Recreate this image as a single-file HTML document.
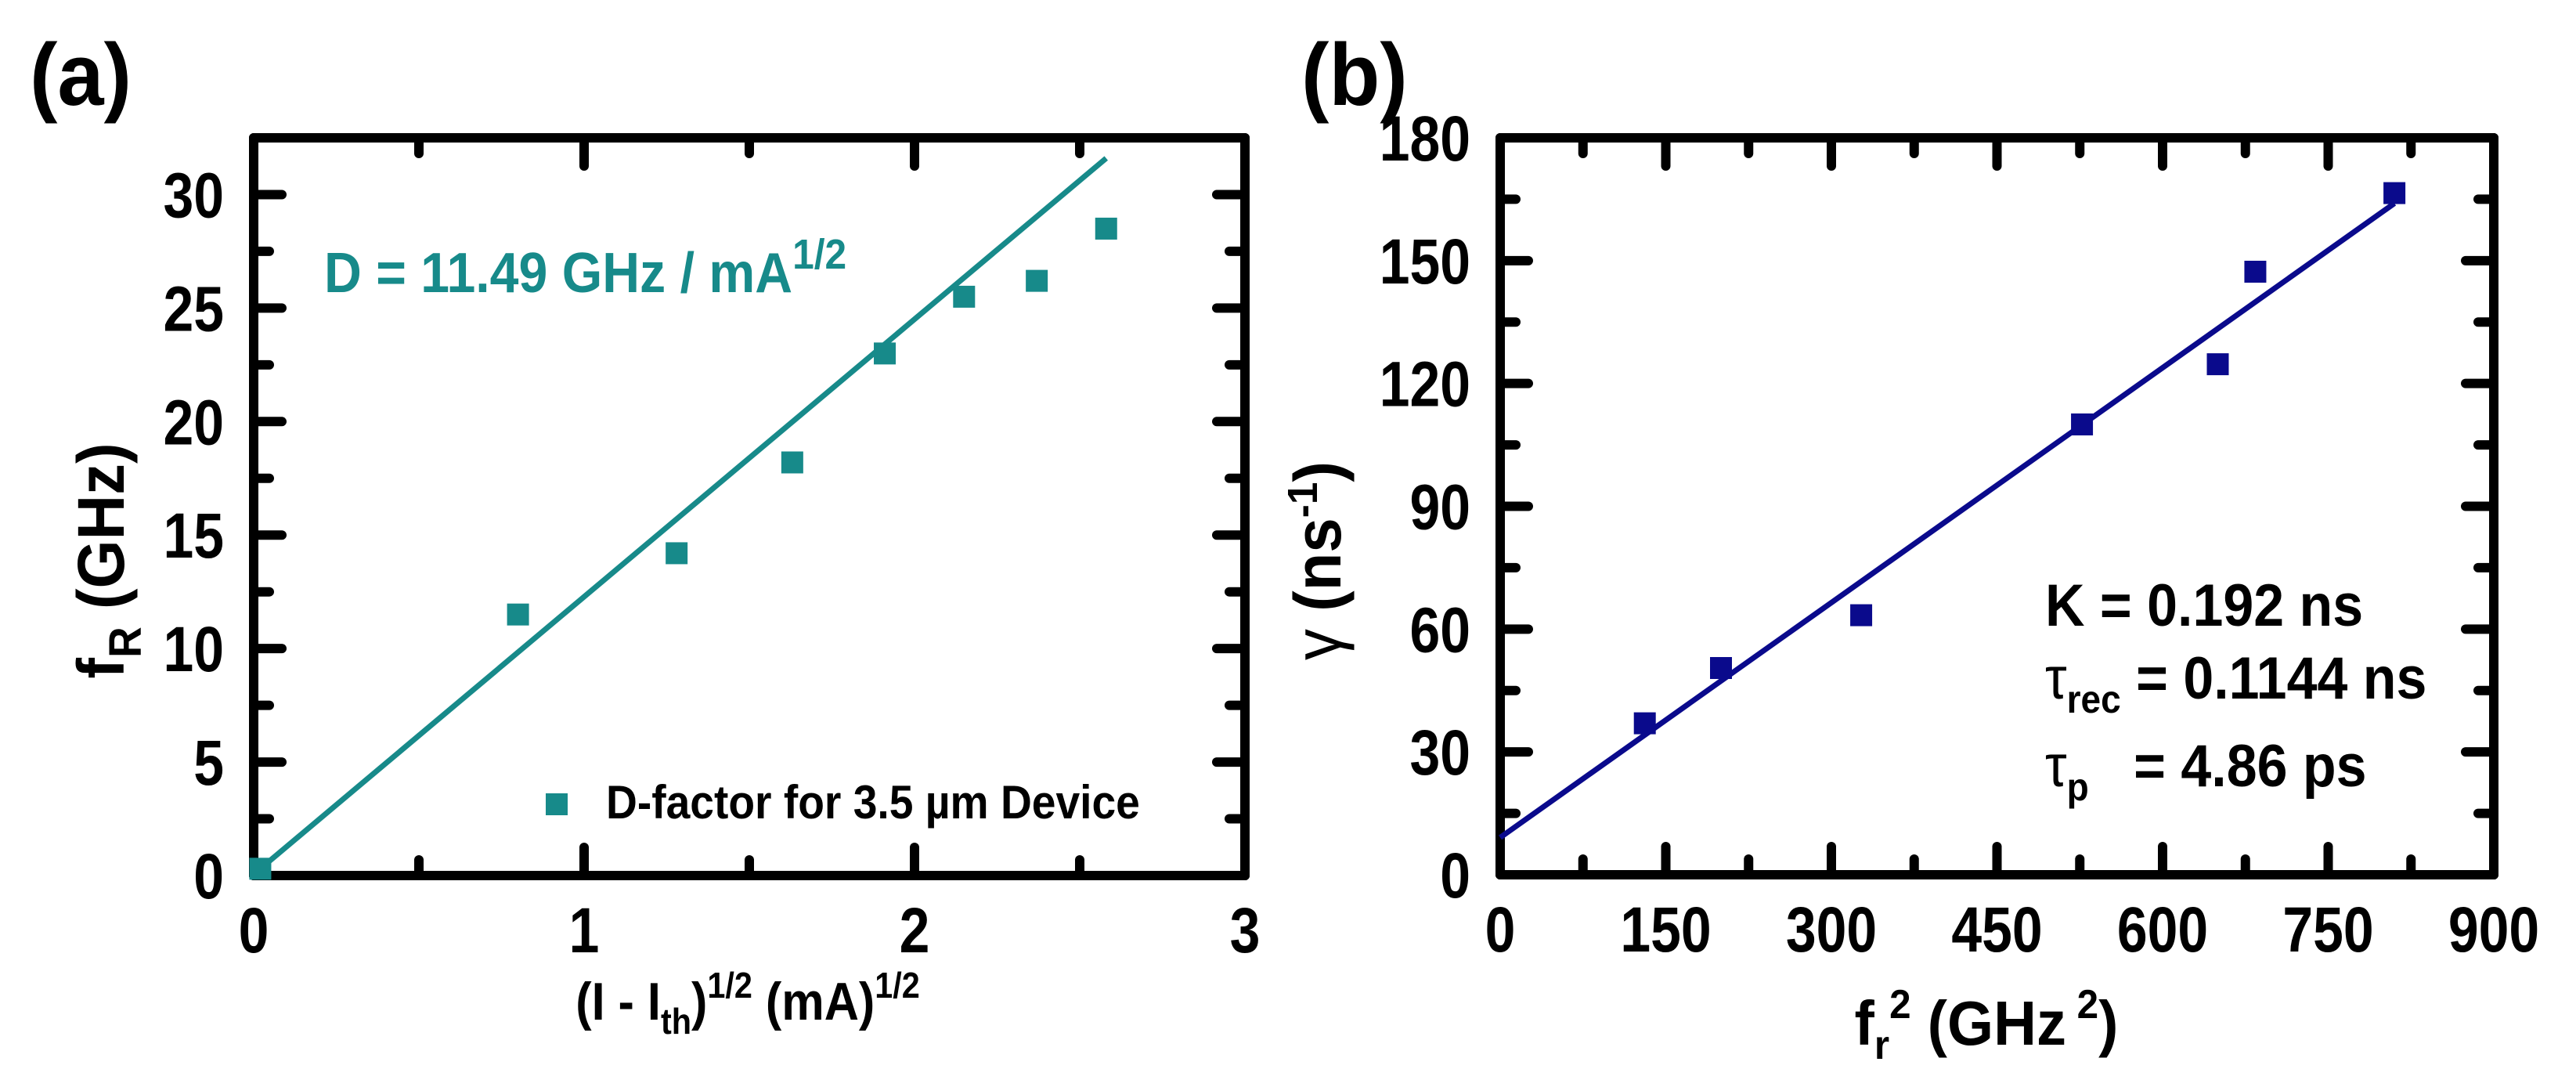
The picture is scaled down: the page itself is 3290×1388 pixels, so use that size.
<!DOCTYPE html>
<html><head><meta charset="utf-8"><style>
html,body{margin:0;padding:0;background:#fff;}
svg{display:block;font-family:"Liberation Sans",sans-serif;font-weight:bold;}
</style></head><body>
<svg id="fig" width="3290" height="1388" viewBox="0 0 3290 1388" xmlns="http://www.w3.org/2000/svg">
<text transform="translate(38,134) scale(0.95,1)" font-size="112">(a)</text>
<text transform="translate(1662,134) scale(0.95,1)" font-size="112">(b)</text>
<g id="pa"></g>
<g id="pb"></g>
<text transform="translate(955,1302) scale(0.9,1)" font-size="68" text-anchor="middle">(I - I<tspan font-size="46" dy="18">th</tspan><tspan dy="-18">)</tspan><tspan font-size="46" dy="-28">1/2</tspan><tspan dy="28"> (mA)</tspan><tspan font-size="46" dy="-28">1/2</tspan></text>
<text transform="translate(158,716) rotate(-90) scale(0.95,1)" font-size="84" text-anchor="middle">f<tspan font-size="58" dy="22">R</tspan><tspan dy="-22"> (GHz)</tspan></text>
<text transform="translate(414,373) scale(0.92,1)" font-size="72" fill="#178a8a">D = 11.49 GHz / mA<tspan font-size="54" dy="-30">1/2</tspan></text>
<rect x="697" y="1013" width="28" height="28" fill="#178a8a"/>
<text transform="translate(774,1045) scale(0.92,1)" font-size="60">D-factor for 3.5 µm Device</text>
<text transform="translate(2537,1334) scale(0.95,1)" font-size="80" text-anchor="middle">f<tspan font-size="52" dy="18">r</tspan><tspan font-size="52" dy="-52">2</tspan><tspan dy="34"> (GHz</tspan><tspan font-size="52" dy="-34"> 2</tspan><tspan dy="34">)</tspan></text>
<text transform="translate(1712,716) rotate(-90) scale(0.95,1)" font-size="84" text-anchor="middle"><tspan font-weight="normal">γ</tspan> (ns<tspan font-size="54" dy="-30">-1</tspan><tspan dy="30">)</tspan></text>
<text transform="translate(2612,799) scale(0.92,1)" font-size="76">K = 0.192 ns</text>
<text transform="translate(2612,892) scale(0.92,1)" font-size="76"><tspan font-weight="normal">τ</tspan><tspan font-size="50" dy="18">rec</tspan><tspan dy="-18"> = 0.1144 ns</tspan></text>
<text transform="translate(2612,1004) scale(0.92,1)" font-size="76"><tspan font-weight="normal">τ</tspan><tspan font-size="50" dy="18">p</tspan><tspan dy="-18" x="123">= 4.86 ps</tspan></text>
</svg>
<script>
// Panel (a) data
const aX = [0.02, 0.80, 1.28, 1.63, 1.91, 2.15, 2.37, 2.58];
const aY = [0.3, 11.5, 14.2, 18.2, 23.0, 25.5, 26.2, 28.5];
const aFitX = [0.02, 2.58];
const aFitY = [0.3, 31.6];
const aXTicks = ["0", "1", "2", "3"];
const aYTicks = ["0", "5", "10", "15", "20", "25", "30"];
// Panel (b) data
const bX = [131, 200, 327, 527, 650, 684, 810];
const bY = [37, 50.5, 63.4, 110, 124.7, 147.3, 166.5];
const bFitX = [0, 810];
const bFitY = [9.1, 164];
const bXTicks = ["0", "150", "300", "450", "600", "750", "900"];
const bYTicks = ["0", "30", "60", "90", "120", "150", "180"];

const NS = "http://www.w3.org/2000/svg";
function mk(parent, tag, attrs) {
  const e = document.createElementNS(NS, tag);
  for (const k in attrs) e.setAttribute(k, attrs[k]);
  parent.appendChild(e);
  return e;
}
function panel(g, box, xr, yr, xt, yt, xMinor, yMinor, px, py, fx, fy, color, prefix) {
  const sx = v => box.l + (v - xr[0]) / (xr[1] - xr[0]) * (box.r - box.l);
  const sy = v => box.b - (v - yr[0]) / (yr[1] - yr[0]) * (box.b - box.t);
  const ax = mk(g, "g", {stroke: "#000", "stroke-width": 12, "stroke-linecap": "round"});
  
  
  for (let v = xr[0]; v <= xr[1] + 1e-9; v += xMinor) {
    const major = xt.some(t => Math.abs(parseFloat(t) - v) < 1e-6);
    const len = major ? 36 : 20;
    const x = sx(v);
    const t1 = mk(ax, "line", {x1: x, x2: x, y1: box.b, y2: box.b - len});
    
    
    const t2 = mk(ax, "line", {x1: x, x2: x, y1: box.t, y2: box.t + len});
    
    
  }
  for (let v = yr[0]; v <= yr[1] + 1e-9; v += yMinor) {
    const major = yt.some(t => Math.abs(parseFloat(t) - v) < 1e-6);
    const len = major ? 36 : 20;
    const y = sy(v);
    const t1 = mk(ax, "line", {x1: box.l, x2: box.l + len, y1: y, y2: y});
    
    
    const t2 = mk(ax, "line", {x1: box.r, x2: box.r - len, y1: y, y2: y});
    
    
  }
  const fr = mk(ax, "rect", {x: box.l, y: box.t, width: box.r - box.l, height: box.b - box.t, fill: "none", "stroke-linejoin": "round"});
  
  
  xt.forEach(t => {
    const e = mk(g, "text", {transform: "translate(" + sx(parseFloat(t)) + "," + (box.b + 98) + ") scale(0.85,1)", "font-size": 82, "text-anchor": "middle"});
    e.textContent = t;
    
    
  });
  yt.forEach(t => {
    const e = mk(g, "text", {transform: "translate(" + (box.l - 38) + "," + (sy(parseFloat(t)) + 29) + ") scale(0.85,1)", "font-size": 82, "text-anchor": "end"});
    e.textContent = t;
    
    
  });
  const ln = mk(g, "line", {x1: sx(fx[0]), y1: sy(fy[0]), x2: sx(fx[1]), y2: sy(fy[1]), stroke: color, "stroke-width": 7});
  
  
  px.forEach((v, i) => {
    const s = 28;
    const r = mk(g, "rect", {x: sx(v) - s / 2, y: sy(py[i]) - s / 2, width: s, height: s, fill: color});
    
    
  });
}
panel(document.getElementById("pa"), {l: 324, r: 1590, t: 176, b: 1118}, [0, 3], [0, 32.5],
  aXTicks, aYTicks, 0.5, 2.5, aX, aY, aFitX, aFitY, "#178a8a", "panel-a");
panel(document.getElementById("pb"), {l: 1916, r: 3185, t: 176, b: 1117}, [0, 900], [0, 180],
  bXTicks, bYTicks, 75, 15, bX, bY, bFitX, bFitY, "#0a0a8c", "panel-b");
</script>
</body></html>
